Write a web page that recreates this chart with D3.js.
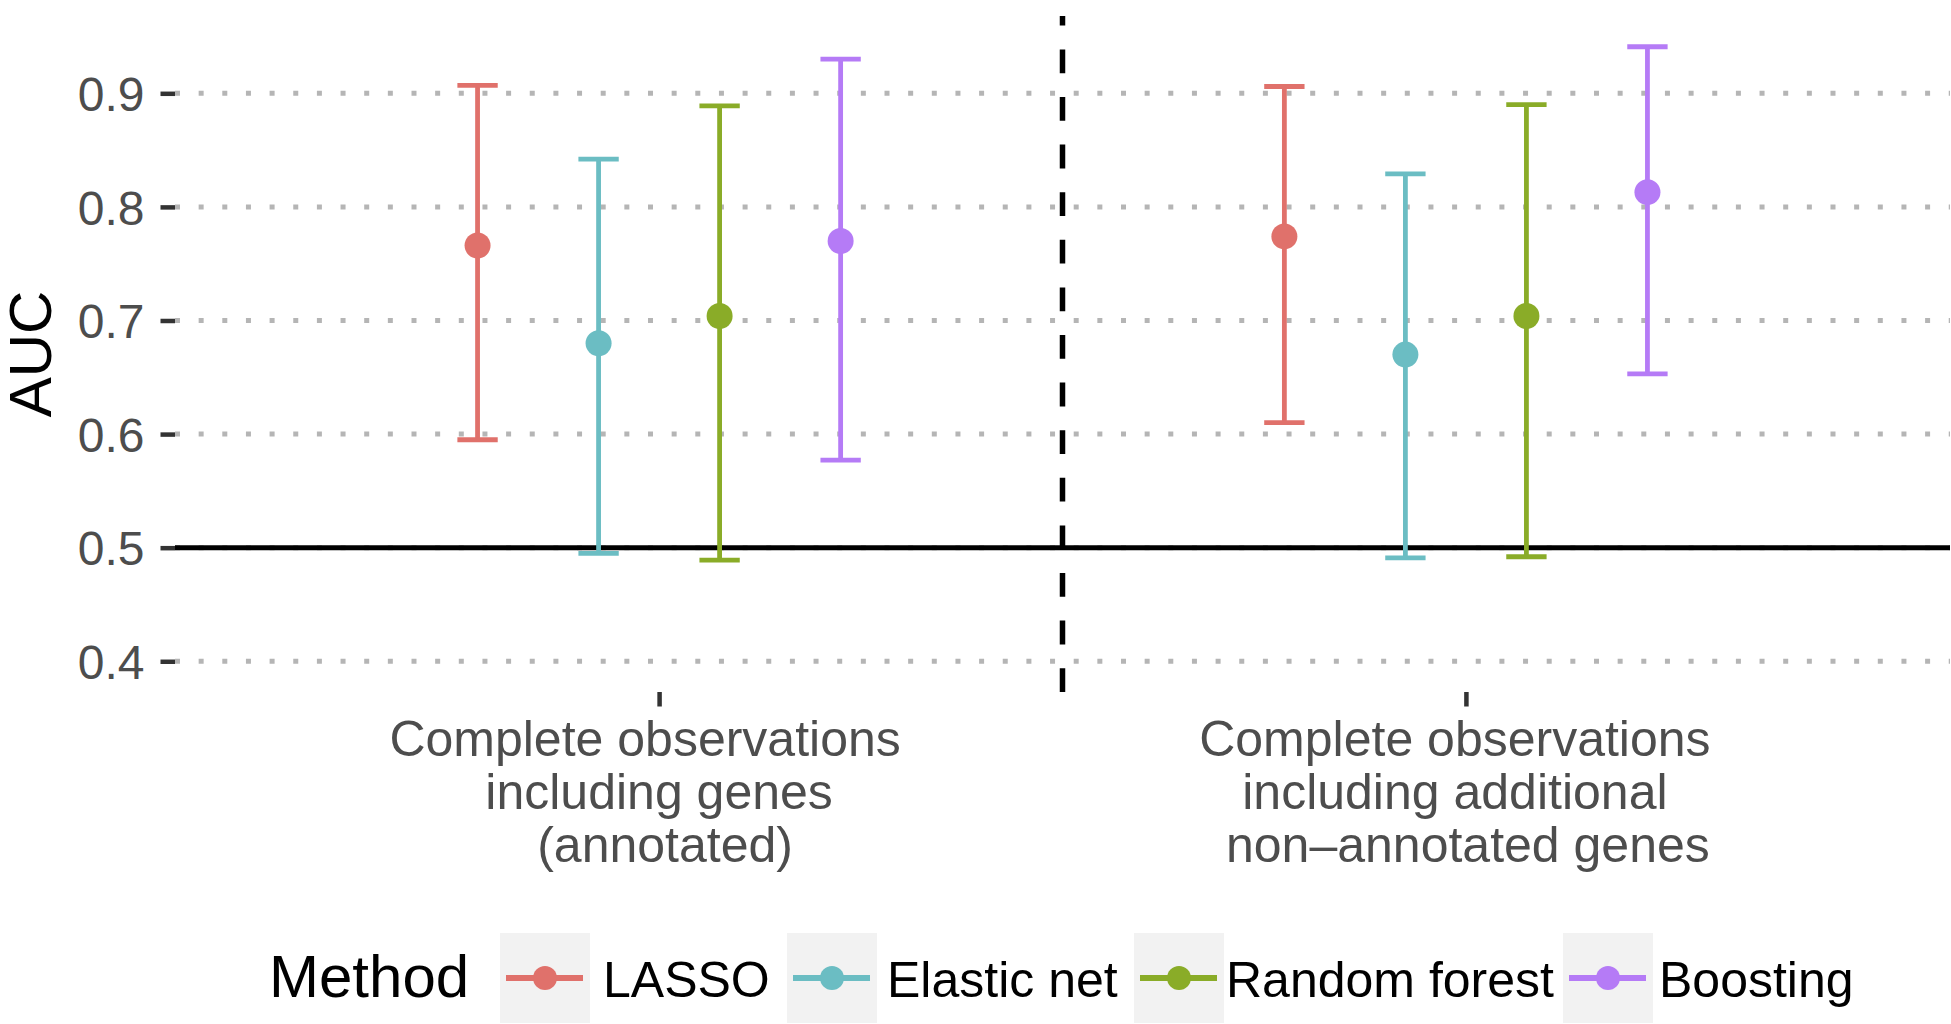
<!DOCTYPE html>
<html>
<head>
<meta charset="utf-8">
<script src="https://cdn.jsdelivr.net/npm/d3@7"></script>
<style>
  body { margin: 0; background: #fff; }
  text { font-family: "Liberation Sans", Arial, sans-serif; }
</style>
</head>
<body>
<div class="auc_chart"></div>
<script>
const groups = ['annotated', 'additional']
const groupLabels = [
  ['Complete observations', 'including genes', '(annotated)'],
  ['Complete observations', 'including additional', 'non\u2013annotated genes']
]
const methods = ['LASSO', 'Elastic net', 'Random forest', 'Boosting']
const colors = ['#E0716B', '#6BBDC3', '#8AAC28', '#B57BF6']

const aucAnnotated = [0.766, 0.680, 0.704, 0.770]
const lowerAnnotated = [0.595, 0.495, 0.489, 0.577]
const upperAnnotated = [0.907, 0.842, 0.889, 0.930]
const aucAdditional = [0.774, 0.670, 0.704, 0.813]
const lowerAdditional = [0.610, 0.491, 0.492, 0.653]
const upperAdditional = [0.906, 0.829, 0.890, 0.941]
const yTicks = [0.4, 0.5, 0.6, 0.7, 0.8, 0.9]

function drawChart () {
  const width = 1951
  const height = 1024
  const panel = {left: 175, right: 1950, top: 16, bottom: 692}
  // small horizontal nudges per label line, as in the original render
  const labelNudge = [[-14, 0, 6], [-11, -11, 2]]
  // legend key / label x positions
  const keyX = [500, 787, 1134, 1563]
  const keyLabelX = [603, 887, 1226, 1659]

  const data = []
  methods.forEach((m, i) => {
    data.push({group: groups[0], method: m, auc: aucAnnotated[i], lo: lowerAnnotated[i], hi: upperAnnotated[i], color: colors[i]})
    data.push({group: groups[1], method: m, auc: aucAdditional[i], lo: lowerAdditional[i], hi: upperAdditional[i], color: colors[i]})
  })

  const x = d3.scalePoint().domain(groups).range([panel.left, panel.right]).padding(0.6)
  const step = x.step()
  const dodge = d3.scaleBand().domain(methods).range([-0.3 * step, 0.3 * step])
  const xPos = (d) => x(d.group) + dodge(d.method) + dodge.bandwidth() / 2
  const capHalf = 0.025 * step

  // y range with ggplot-like 5% expansion around 0.4 .. max upper
  const yMin = 0.4
  const yMax = d3.max(upperAnnotated.concat(upperAdditional))
  const pad = (yMax - yMin) * 0.05
  const y = d3.scaleLinear().domain([yMin - pad, yMax + pad]).range([panel.bottom, panel.top])

  const svg = d3.select('.auc_chart').append('svg')
    .attr('width', width)
    .attr('height', height)

  // grid
  svg.append('g').selectAll('line')
    .data(yTicks)
    .enter().append('line')
    .attr('x1', panel.left).attr('x2', panel.right)
    .attr('y1', (d) => y(d)).attr('y2', (d) => y(d))
    .attr('stroke', '#b5b5b5')
    .attr('stroke-width', 5)
    .attr('stroke-dasharray', '5 18.65')

  // y axis
  const yAxis = d3.axisLeft(y).tickValues(yTicks).tickSize(14.5).tickPadding(16).tickFormat(d3.format('.1f'))
  const ga = svg.append('g')
    .attr('transform', 'translate(' + panel.left + ',0)')
    .call(yAxis)
  ga.select('.domain').remove()
  ga.selectAll('.tick line').attr('stroke', '#333').attr('stroke-width', 4.5)
  ga.selectAll('.tick text')
    .attr('fill', '#4d4d4d')
    .attr('font-size', 48)
    .attr('dy', '0.36em')
    .style('font-family', '"Liberation Sans", Arial, sans-serif')

  // x axis ticks
  const xAxis = d3.axisBottom(x).tickSize(14.5).tickFormat('')
  const gx = svg.append('g')
    .attr('transform', 'translate(0,' + panel.bottom + ')')
    .call(xAxis)
  gx.select('.domain').remove()
  gx.selectAll('.tick line').attr('stroke', '#333').attr('stroke-width', 4.5)

  groups.forEach((g, gi) => {
    const t = svg.append('text')
      .attr('text-anchor', 'middle')
      .attr('fill', '#4d4d4d')
      .attr('font-size', 50)
    groupLabels[gi].forEach((line, li) => {
      t.append('tspan')
        .attr('x', x(g) + labelNudge[gi][li])
        .attr('y', 755.6 + li * 53)
        .text(line)
    })
  })

  // AUC title
  svg.append('text')
    .attr('transform', 'translate(51,' + ((panel.top + panel.bottom) / 2) + ') rotate(-90)')
    .attr('text-anchor', 'middle')
    .attr('font-size', 60)
    .attr('fill', '#000')
    .text('AUC')

  // reference line at 0.5
  svg.append('line')
    .attr('x1', panel.left).attr('x2', panel.right)
    .attr('y1', y(0.5)).attr('y2', y(0.5))
    .attr('stroke', '#000')
    .attr('stroke-width', 5)

  // separator between the two groups
  const xMid = (x(groups[0]) + x(groups[1])) / 2
  svg.append('line')
    .attr('x1', xMid).attr('x2', xMid)
    .attr('y1', panel.bottom).attr('y2', panel.top)
    .attr('stroke', '#000')
    .attr('stroke-width', 5.5)
    .attr('stroke-dasharray', '23.8 23.8')

  // error bars
  const g = svg.append('g').selectAll('.bar')
    .data(data)
    .enter().append('g')

  g.append('line')
    .attr('x1', xPos).attr('x2', xPos)
    .attr('y1', (d) => y(d.lo)).attr('y2', (d) => y(d.hi))
    .attr('stroke', (d) => d.color)
    .attr('stroke-width', 4.8)
  g.append('line')
    .attr('x1', (d) => xPos(d) - capHalf).attr('x2', (d) => xPos(d) + capHalf)
    .attr('y1', (d) => y(d.hi)).attr('y2', (d) => y(d.hi))
    .attr('stroke', (d) => d.color)
    .attr('stroke-width', 4.8)
  g.append('line')
    .attr('x1', (d) => xPos(d) - capHalf).attr('x2', (d) => xPos(d) + capHalf)
    .attr('y1', (d) => y(d.lo)).attr('y2', (d) => y(d.lo))
    .attr('stroke', (d) => d.color)
    .attr('stroke-width', 4.8)
  g.append('circle')
    .attr('cx', xPos)
    .attr('cy', (d) => y(d.auc))
    .attr('r', 13)
    .attr('fill', (d) => d.color)

  // legend
  const legend = svg.append('g')
  legend.append('text')
    .attr('x', 269).attr('y', 997)
    .attr('font-size', 60)
    .attr('fill', '#000')
    .text('Method')

  const keyTop = 933
  const keySize = 90
  methods.forEach((m, i) => {
    const lx = keyX[i]
    const k = legend.append('g')
    k.append('rect')
      .attr('x', lx).attr('y', keyTop)
      .attr('width', keySize).attr('height', keySize)
      .attr('fill', '#f2f2f2')
    k.append('line')
      .attr('x1', lx + 6).attr('x2', lx + keySize - 7)
      .attr('y1', keyTop + keySize / 2).attr('y2', keyTop + keySize / 2)
      .attr('stroke', colors[i])
      .attr('stroke-width', 6)
    k.append('circle')
      .attr('cx', lx + keySize / 2).attr('cy', keyTop + keySize / 2)
      .attr('r', 12)
      .attr('fill', colors[i])
    k.append('text')
      .attr('x', keyLabelX[i]).attr('y', 997)
      .attr('font-size', 50)
      .attr('fill', '#000')
      .text(m)
  })
}

drawChart()
</script>
</body>
</html>
